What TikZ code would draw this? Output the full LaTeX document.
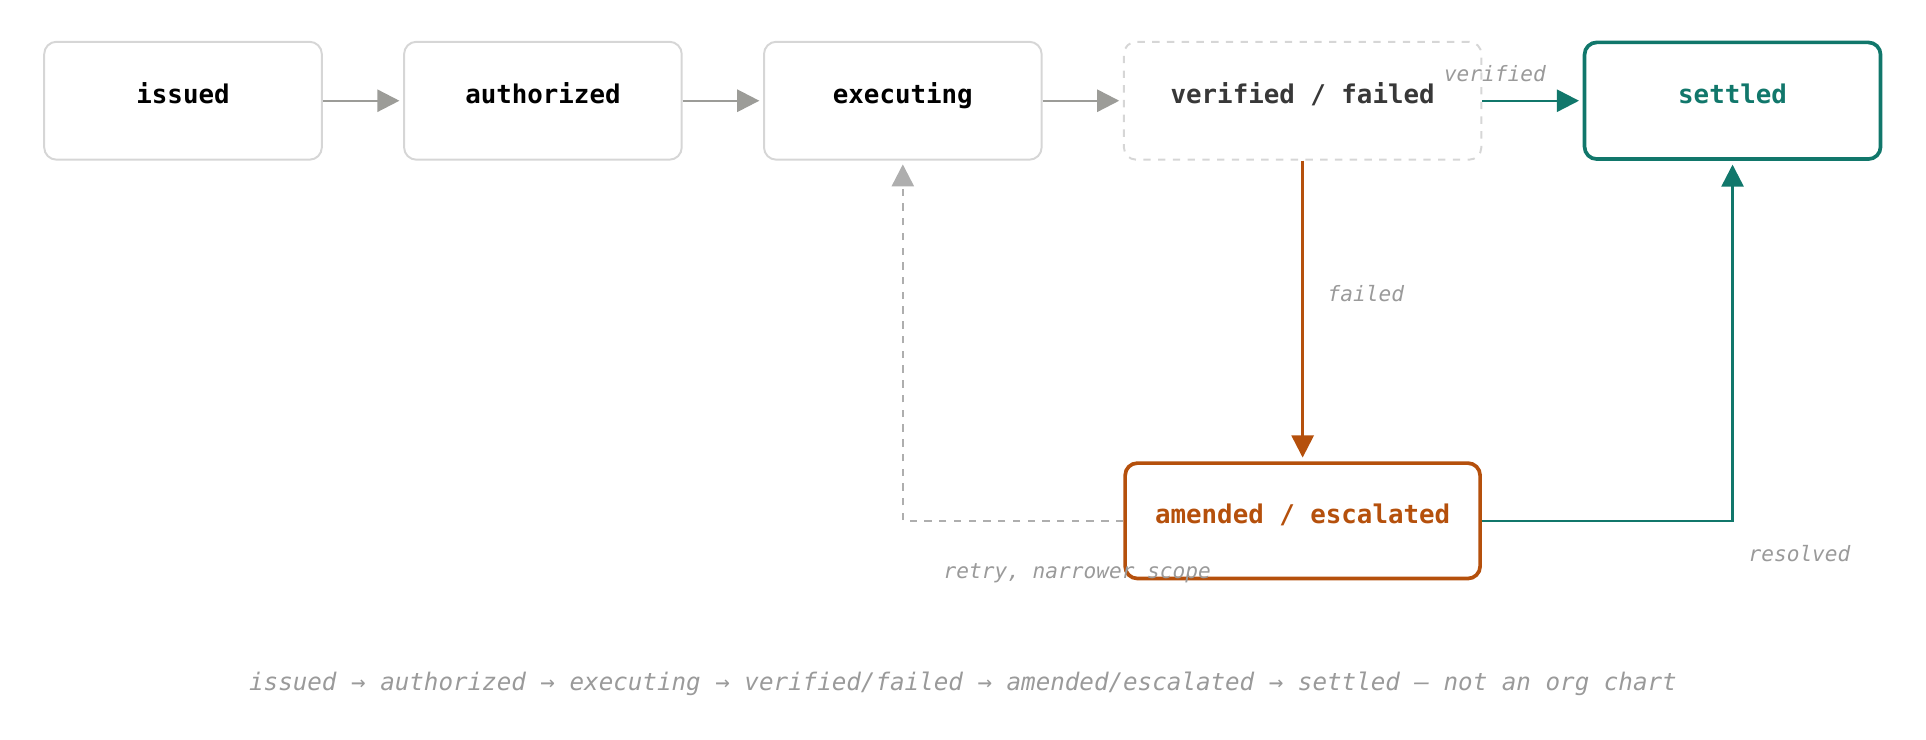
\documentclass[tikz,border=0pt]{standalone}
\usepackage{fontspec}
\setmonofont{DejaVu Sans Mono}
\usetikzlibrary{arrows.meta}
\definecolor{teal}{HTML}{11776B}
\definecolor{orng}{HTML}{B5500C}
\definecolor{garr}{HTML}{9C9C98}
\definecolor{bord}{HTML}{D6D6D6}
\definecolor{lbl}{HTML}{9A9A9A}
\begin{document}
\begin{tikzpicture}[x=0.5pt,y=-0.5pt,
  box/.style={draw=bord,line width=0.8pt,rounded corners=5pt,minimum height=48pt,font=\ttfamily\bfseries\fontsize{10.5}{12}\selectfont,inner sep=0,text height=6pt,text depth=3.5pt},
  arr/.style={-{Triangle[length=9pt,width=9pt]},line width=1pt,shorten >=1.5pt},
  lab/.style={font=\ttfamily\itshape\fontsize{8.6}{10}\selectfont,text=lbl}]
\useasboundingbox (0,0) rectangle (1568,602);
\node[box,minimum width=113pt] (iss) at (149,82) {issued};
\node[box,minimum width=113pt] (aut) at (442,82) {authorized};
\node[box,minimum width=113pt] (exe) at (735,82) {executing};
\node[box,dashed,minimum width=145.5pt,text=black!78] (ver) at (1060.5,82) {verified / failed};
\node[box,draw=teal,line width=1.5pt,minimum width=120.5pt,minimum height=47.5pt,text=teal] (set) at (1410.5,82) {settled};
\node[box,draw=orng,line width=1.5pt,minimum width=144.5pt,minimum height=47pt,text=orng] (ame) at (1060.5,424) {amended / escalated};
\draw[arr,garr] (iss) -- (aut);
\draw[arr,garr] (aut) -- (exe);
\draw[arr,garr] (exe) -- (ver);
\draw[arr,teal] (ver) -- (set);
\draw[arr,orng] (ver) -- (ame);
\draw[arr,garr,dashed,draw=lbl!80] (ame.west) -| (exe.south);
\draw[arr,teal] (ame.east) -| (set.south);
\node[lab] at (1217,60) {verified};
\node[lab] at (1112,239) {failed};
\node[lab] at (877,467) {retry, narrower scope};
\node[lab] at (1465,451) {resolved};
\node[lab,font=\ttfamily\itshape\fontsize{9.85}{12}\selectfont] (cap) at (784,557) {issued → authorized → executing → verified/failed → amended/escalated → settled — not an org chart};
\end{tikzpicture}
\end{document}
